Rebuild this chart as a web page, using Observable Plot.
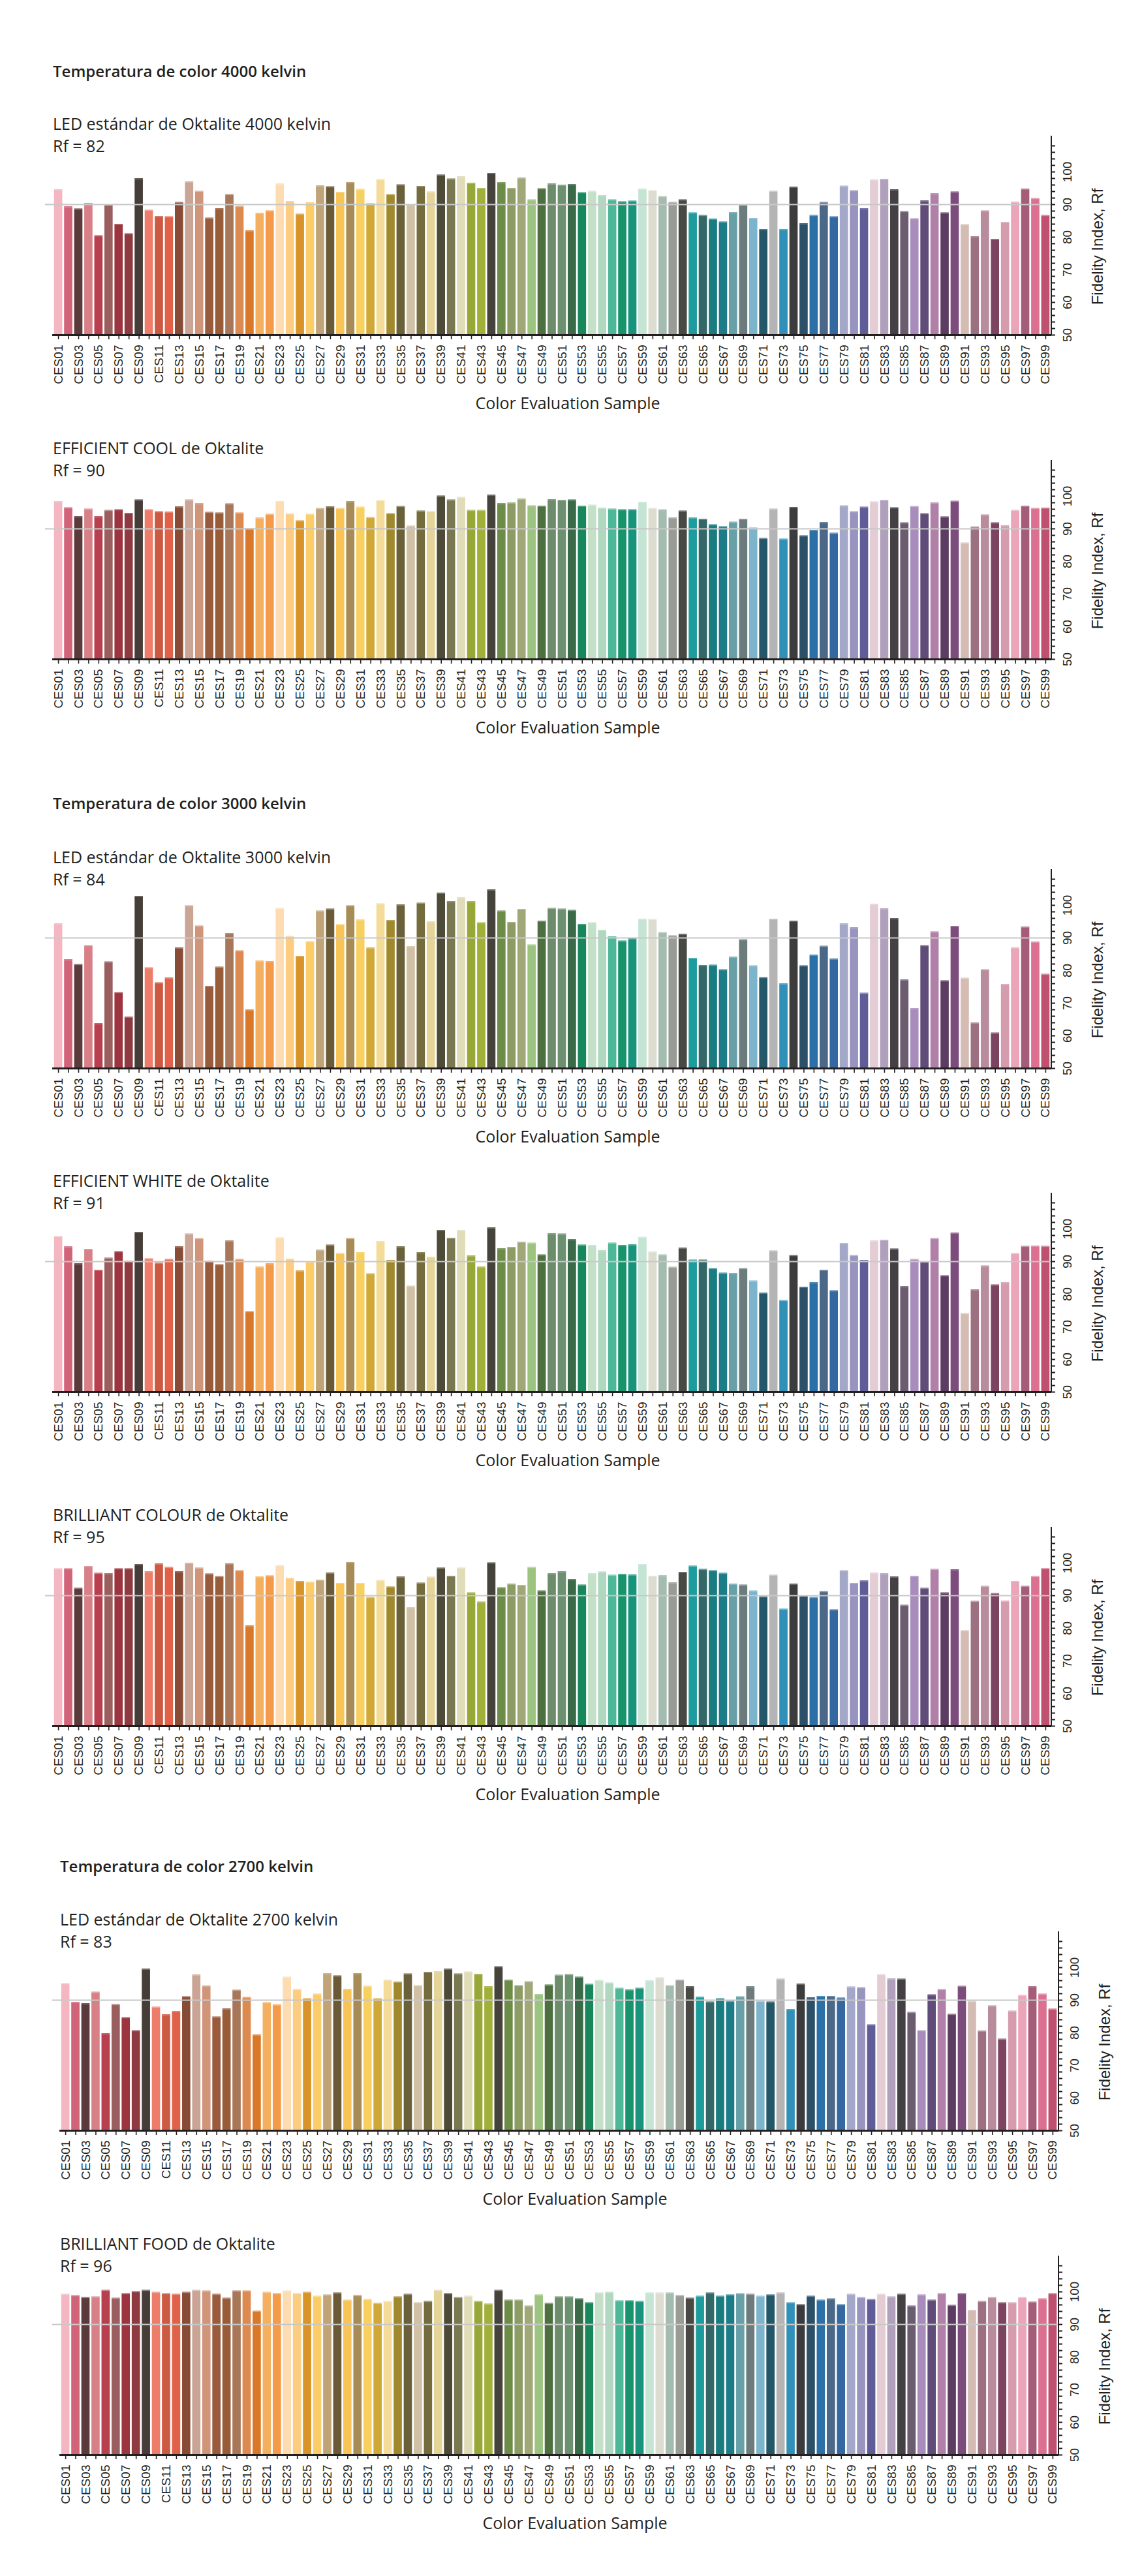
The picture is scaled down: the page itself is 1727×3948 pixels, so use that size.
<!DOCTYPE html>
<html><head><meta charset="utf-8">
<script src="https://cdn.jsdelivr.net/npm/d3@7"></script>
<script src="https://cdn.jsdelivr.net/npm/@observablehq/plot@0.6"></script>
<style>
body{margin:0;background:#fff;}
#page{position:relative;width:1727px;height:3948px;overflow:hidden;background:#fff;}
.t{position:absolute;font-family:"Open Sans",sans-serif;color:#231f20;white-space:nowrap;line-height:1;}
.sec{font-weight:600;font-size:24px;}
.sub{font-weight:400;font-size:25px;}
.panel{position:absolute;left:0;}
</style></head><body><div id="page"></div>
<script>
// ---------- data ----------
const samples = ["CES01","CES02","CES03","CES04","CES05","CES06","CES07","CES08","CES09","CES10",
"CES11","CES12","CES13","CES14","CES15","CES16","CES17","CES18","CES19","CES20",
"CES21","CES22","CES23","CES24","CES25","CES26","CES27","CES28","CES29","CES30",
"CES31","CES32","CES33","CES34","CES35","CES36","CES37","CES38","CES39","CES40",
"CES41","CES42","CES43","CES44","CES45","CES46","CES47","CES48","CES49","CES50",
"CES51","CES52","CES53","CES54","CES55","CES56","CES57","CES58","CES59","CES60",
"CES61","CES62","CES63","CES64","CES65","CES66","CES67","CES68","CES69","CES70",
"CES71","CES72","CES73","CES74","CES75","CES76","CES77","CES78","CES79","CES80",
"CES81","CES82","CES83","CES84","CES85","CES86","CES87","CES88","CES89","CES90",
"CES91","CES92","CES93","CES94","CES95","CES96","CES97","CES98","CES99"];

const sampleColors = ["#f4b6c0","#d2647a","#5a3a3a","#d88088","#b8404e","#9a5e5e","#9c3540","#8e3a40","#463c38","#ee7c6a",
"#cc5a42","#e06048","#884c36","#caa494","#d09478","#9a5a3c","#985c38","#a87658","#dc8a50","#d87828",
"#f4b060","#f49a48","#fcdcb0","#fccc80","#d89428","#fccc68","#c0a478","#6a5a38","#f8c458","#a88c58",
"#f8d060","#d0a838","#f4dc98","#a0882c","#6a603a","#d0c0a4","#746c3c","#e4d498","#4e4a38","#7a7850",
"#e0dcb8","#98a838","#a0b038","#46423c","#6c8c48","#8c9c64","#a0a878","#9cc480","#4e7040","#6c8c6c",
"#6c9070","#3a6a48","#18885c","#c4e0c8","#b0d8c0","#4cb898","#18946c","#18947c","#c4e4d4","#dcdcd0",
"#a4bcb0","#989c94","#484844","#1c9c9c","#346868","#187c80","#1c7c88","#68a0a8","#6c7c7c","#7cb4cc",
"#245868","#b4b4b4","#3090b8","#3c3c3c","#2c5068","#2c70a8","#4c6888","#3468a0","#a4a8c8","#9894c0",
"#605c98","#e4ccd4","#b0a0bc","#444044","#6c5c70","#a88cbc","#604c78","#b080a8","#5c3c60","#7c4c7c",
"#d4bcb4","#9c7080","#b88c9c","#7c4460","#d49cac","#eca4b8","#a45c78","#dc7090","#c05070"];

const rfLED4000 = [94.6,89.4,88.7,90.4,80.5,89.8,84.0,81.1,98.0,88.3,
86.4,86.3,90.7,97.0,94.1,85.9,88.8,93.1,89.5,82.0,
87.4,88.1,96.4,91.0,87.1,90.6,95.8,95.5,93.8,96.8,
94.7,90.3,97.7,93.1,96.1,90.0,95.6,93.9,99.1,97.9,
98.6,96.6,95.0,99.6,96.8,95.0,98.2,91.5,94.9,96.4,
96.0,96.2,93.7,94.1,92.8,91.5,90.9,91.1,94.8,94.3,
92.5,90.7,91.5,87.5,86.7,85.6,84.7,87.6,89.8,85.8,
82.4,94.1,82.4,95.4,84.2,86.7,90.7,86.3,95.7,94.3,
88.8,97.6,97.8,94.6,87.9,85.7,91.2,93.4,87.5,93.9,
83.9,80.2,88.1,79.4,84.6,90.8,94.8,91.9,86.7];

const rfEfficientCool = [98.4,96.5,93.8,96.1,93.8,95.7,95.9,94.8,98.9,95.9,
95.3,95.2,96.8,98.9,97.8,95.1,94.9,97.7,94.9,90.1,
93.4,94.5,98.4,94.6,92.5,94.5,96.3,96.8,96.3,98.4,
96.7,93.5,98.7,94.7,96.9,90.9,95.5,95.3,100.1,98.9,
99.7,95.7,95.7,100.4,97.8,98.0,99.2,97.1,97.0,99.0,
98.8,98.9,97.0,97.3,96.4,96.1,95.9,95.9,98.2,96.3,
95.9,93.4,95.5,93.4,93.0,91.3,90.7,92.1,93.0,90.3,
87.1,96.1,86.9,96.6,87.9,89.6,92.0,88.7,97.1,95.3,
96.7,98.3,98.8,96.5,91.9,96.9,94.7,98.0,93.7,98.5,
85.7,90.6,94.3,91.9,91.0,95.7,97.0,96.3,96.4];

const rfLED3000 = [94.4,83.4,81.9,87.7,63.8,82.7,73.3,65.8,102.8,80.9,
76.3,77.8,87.0,99.9,93.7,75.2,81.1,91.4,86.1,68.0,
83.0,82.8,99.1,90.5,84.4,88.9,98.3,98.9,94.1,99.9,
95.6,87.0,100.5,95.4,100.2,87.4,100.7,95.0,103.8,101.2,
102.4,101.2,94.7,104.8,98.3,94.8,98.8,87.9,95.2,99.1,
98.9,98.5,94.2,94.7,92.4,90.4,89.1,89.8,95.8,95.7,
91.7,90.7,91.2,83.8,81.6,81.7,80.3,84.2,89.5,81.5,
77.9,95.8,76.0,95.2,81.5,84.8,87.5,83.6,94.4,93.2,
73.1,100.4,99.0,96.0,77.2,68.4,87.7,91.9,76.9,93.6,
77.7,64.0,80.3,60.9,75.8,87.0,93.4,88.8,78.9];

const rfEfficientWhite = [97.7,94.6,89.4,93.8,87.4,91.1,93.1,90.1,99.0,90.9,
89.6,90.7,94.6,98.5,97.1,90.1,89.1,96.4,90.7,74.7,
88.4,89.4,97.3,90.8,87.2,89.9,93.6,95.1,92.5,97.1,
92.8,86.3,96.2,90.4,94.6,82.5,92.8,91.4,99.6,97.2,
99.6,91.8,88.4,100.4,94.0,94.4,96.0,95.7,92.1,98.6,
98.5,96.8,95.1,95.0,93.4,95.7,95.0,95.2,97.5,93.0,
92.1,88.3,94.2,90.5,90.5,87.9,86.5,86.4,87.9,84.1,
80.4,93.3,78.1,91.9,82.2,83.6,87.4,81.1,95.6,91.9,
90.4,96.4,96.6,93.9,82.4,90.7,89.8,97.1,85.7,98.8,
74.1,81.4,88.7,82.9,83.6,92.5,94.7,94.8,94.7];

const rfBrilliantColour = [98.3,98.3,92.3,99.0,96.9,96.8,98.3,98.3,99.6,97.4,
99.8,98.7,97.4,100.0,98.5,96.7,95.9,99.8,97.7,80.8,
95.8,96.1,99.2,95.4,94.4,94.2,94.8,97.0,93.8,100.2,
93.8,89.5,94.7,92.7,95.8,86.4,93.9,95.7,98.5,96.0,
98.5,90.9,88.1,100.1,92.5,93.6,93.2,98.7,91.5,96.8,
97.4,95.0,93.3,96.8,97.3,96.3,96.6,96.4,99.6,96.0,
96.2,94.0,97.2,99.1,98.1,97.7,96.9,93.6,93.3,91.5,
89.7,96.3,85.9,93.6,89.9,89.5,91.3,85.7,97.7,93.8,
94.6,97.0,96.8,95.8,87.1,96.0,92.3,98.1,90.9,98.0,
79.3,88.3,92.9,90.7,88.4,94.4,92.9,95.9,98.3];

const rfLED2700 = [95.1,89.4,89.0,92.5,79.8,88.7,84.7,80.7,99.6,87.9,
85.6,86.6,91.1,97.8,94.4,84.9,87.4,93.1,90.9,79.4,
89.3,88.6,97.1,93.3,90.5,91.9,98.2,97.5,93.4,98.2,
94.3,90.5,96.2,95.6,98.1,94.5,98.6,98.8,99.6,98.1,
98.7,98.0,94.2,100.3,96.2,94.5,95.7,91.8,94.7,97.7,
97.9,97.1,94.9,96.1,95.3,93.7,93.2,93.7,96.0,96.9,
94.5,96.2,94.2,91.0,89.5,90.5,89.7,91.1,94.2,89.7,
89.5,96.5,87.2,95.0,90.8,91.2,91.2,90.7,94.1,93.9,
82.5,97.9,96.6,96.5,86.3,80.7,91.7,93.3,85.7,94.3,
89.7,80.6,88.3,78.1,86.7,91.5,94.2,91.9,87.3];

const rfBrilliantFood = [99.3,98.9,98.3,98.5,100.5,98.1,99.5,100.1,100.5,99.9,
99.5,99.3,99.9,100.5,100.3,99.3,98.1,100.3,100.3,94.1,
99.9,99.5,100.3,99.5,99.9,98.7,99.1,99.7,97.5,98.9,
97.7,96.5,97.1,98.5,99.3,96.7,97.1,100.5,99.5,98.3,
98.7,97.1,96.3,100.5,97.5,97.5,95.7,99.1,96.5,98.5,
98.5,97.9,96.7,99.7,99.9,97.3,97.3,97.1,99.7,99.7,
99.7,98.9,98.1,98.7,99.7,98.7,99.1,99.5,99.3,98.7,
99.1,99.7,96.7,96.1,98.7,97.5,97.9,96.1,99.3,98.3,
97.7,99.3,98.5,99.3,95.7,99.1,97.5,99.5,95.9,99.5,
94.4,97.1,98.3,96.7,96.7,98.3,96.9,97.9,99.5];

const sectionTitles = ["Temperatura de color 4000 kelvin","Temperatura de color 3000 kelvin","Temperatura de color 2700 kelvin"];
const panelNames = ["LED estándar de Oktalite 4000 kelvin","EFFICIENT COOL de Oktalite","LED estándar de Oktalite 3000 kelvin","EFFICIENT WHITE de Oktalite","BRILLIANT COLOUR de Oktalite","LED estándar de Oktalite 2700 kelvin","BRILLIANT FOOD de Oktalite"];
const panelRf = [82, 90, 84, 91, 95, 83, 96];
const panelSeries = [rfLED4000, rfEfficientCool, rfLED3000, rfEfficientWhite, rfBrilliantColour, rfLED2700, rfBrilliantFood];
const yTickLabels = [50, 60, 70, 80, 90, 100];
const yMinorTicks = [50,52,54,56,58,60,62,64,66,68,70,72,74,76,78,80,82,84,86,88,90,92,94,96,98,100,102,104,106,108];
const referenceRf = 90;
const xTitle = "Color Evaluation Sample";
const yTitle = "Fidelity Index, Rf";

// ---------- layout ----------
const page = document.getElementById("page");
const sectionBaselines = [118, 1240, 2869];
const sectionShift = [0, 0, 11];
const panelBase = [513, 1010, 1637, 2133, 2645, 3265, 3762]; // y of value 50 on page
const panelSection = [0, 0, 1, 1, 1, 2, 2];
const MT = 10, PH = 305, MB = 130;

function addText(txt, cls, left, baseline, fs) {
  const d = document.createElement("div");
  d.className = "t " + cls;
  d.textContent = txt;
  d.style.left = left + "px";
  d.style.top = (baseline - 0.888 * fs) + "px";
  page.appendChild(d);
}

sectionTitles.forEach((t, i) => addText(t, "sec", 81 + sectionShift[i], sectionBaselines[i], 24));

// right-hand axis line, drawn at the frame's right edge
function rightAxisLine(index, scales, values, dims) {
  const ns = "http://www.w3.org/2000/svg";
  const g = document.createElementNS(ns, "g");
  const l = document.createElementNS(ns, "line");
  const x = dims.width - dims.marginRight;
  l.setAttribute("x1", x); l.setAttribute("x2", x);
  l.setAttribute("y1", dims.marginTop); l.setAttribute("y2", dims.height - dims.marginBottom + 1.5);
  l.setAttribute("stroke", "#231f20"); l.setAttribute("stroke-width", 2);
  g.appendChild(l);
  return g;
}

function panel(values, shift) {
  const data = samples.map((s, i) => ({s, v: values[i], c: sampleColors[i]}));
  return Plot.plot({
    width: 1727, height: MT + PH + MB,
    marginTop: MT, marginBottom: MB, marginLeft: 80 + shift, marginRight: 116 - shift,
    style: {background: "transparent", overflow: "visible", fontFamily: "Liberation Sans, Arial, sans-serif", fontSize: "19px", color: "#231f20"},
    x: {domain: samples, padding: 0.18, axis: null},
    y: {domain: [50, 111], axis: null},
    marks: [
      Plot.barY(data, {x: "s", y1: 50, y2: "v", fill: "c"}),
      Plot.tickY(data, {x: "s", y: "v", stroke: "white", strokeOpacity: 0.35, strokeWidth: 1.2, dy: 0.6}),
      Plot.ruleY([referenceRf], {stroke: "#c8c8c8", strokeWidth: 2.2, insetLeft: -11}),
      Plot.ruleY([50], {stroke: "#231f20", strokeWidth: 3}),
      Plot.axisX({tickSize: 7, tickPadding: 8, tickRotate: -90, strokeWidth: 1.6,
        tickFormat: d => (samples.indexOf(d) % 2 === 0 ? d : ""), label: null}),
      Plot.axisY({anchor: "right", ticks: yMinorTicks, tickSize: 5, strokeWidth: 2, tickFormat: () => "", label: null}),
      rightAxisLine,
      Plot.text(yTickLabels, {y: d => d, text: d => String(d), frameAnchor: "right", textAnchor: "middle", lineAnchor: "middle", dx: 24, rotate: -90, fill: "#231f20"}),
      Plot.text([yTitle], {frameAnchor: "right", textAnchor: "middle", lineAnchor: "middle", dx: 71, dy: 17, rotate: -90, fontSize: 24, fill: "#231f20"}),
      Plot.text([xTitle], {frameAnchor: "bottom", textAnchor: "middle", lineAnchor: "middle", dx: 24, dy: 105, fontSize: 25, fontFamily: "Open Sans, sans-serif", fill: "#231f20"})
    ]
  });
}

panelSeries.forEach((vals, i) => {
  const shift = sectionShift[panelSection[i]];
  const b = panelBase[i];
  addText(panelNames[i], "sub", 81 + shift, b - 314, 25);
  addText("Rf = " + panelRf[i], "sub", 81 + shift, b - 280, 25);
  const svg = panel(vals, shift);
  svg.classList.add("panel");
  svg.style.top = (b - PH - MT) + "px";
  page.appendChild(svg);
});
</script></body></html>
